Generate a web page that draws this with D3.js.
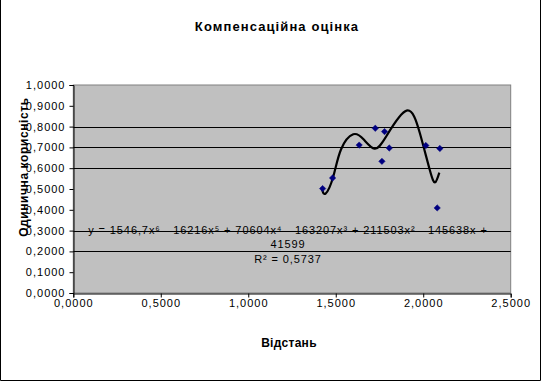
<!DOCTYPE html>
<html><head><meta charset="utf-8">
<script src="https://cdn.jsdelivr.net/npm/d3@7/dist/d3.min.js"></script>
<style>body{margin:0;background:#fff}svg{display:block}text{font-family:"Liberation Sans",Arial,sans-serif}</style>
</head><body><svg id="c" width="542" height="383"></svg>
<script>
const title = "Компенсаційна оцінка";
const xTitle = "Відстань";
const yTitle = "Одинична корисність";
const xTicks = [0, 0.5, 1.0, 1.5, 2.0, 2.5];
const yTicks = [0, 0.1, 0.2, 0.3, 0.4, 0.5, 0.6, 0.7, 0.8, 0.9, 1.0];
const gridValues = [0.2, 0.3, 0.6, 0.7, 0.8];
const pointsX = [1.425, 1.482, 1.634, 1.726, 1.779, 1.806, 1.764, 2.015, 2.095, 2.080];
const pointsY = [0.502, 0.553, 0.711, 0.792, 0.776, 0.697, 0.633, 0.709, 0.695, 0.409];
const trendX = [1.419, 1.442, 1.486, 1.530, 1.600, 1.660, 1.722, 1.790, 1.905, 1.981, 2.038, 2.068, 2.092];
const trendY = [0.506, 0.478, 0.560, 0.690, 0.763, 0.738, 0.694, 0.755, 0.877, 0.768, 0.590, 0.532, 0.579];
const eqLines = ["y = 1546,7x⁶ - 16216x⁵ + 70604x⁴ - 163207x³ + 211503x² - 145638x +", "41599", "R² = 0,5737"];

const svg = d3.select("#c");
const x = d3.scaleLinear().domain([0, 2.5]).range([73.3, 510.7]);
const y = d3.scaleLinear().domain([0, 1]).range([293, 85]);
const fmt = v => d3.format(".4f")(v).replace(".", ",");

svg.append("path").attr("d", "M0.5,0 V380.5 H540.5 V0").attr("fill", "none").attr("stroke", "#000");

svg.append("text").attr("x", 277).attr("y", 31).attr("text-anchor", "middle")
  .attr("font-size", 13).attr("font-weight", "bold").attr("letter-spacing", 1.1).text(title);

svg.append("rect").attr("x", x(0)).attr("y", y(1)).attr("width", x(2.5) - x(0)).attr("height", y(0) - y(1))
  .attr("fill", "#c0c0c0").attr("stroke", "#808080").attr("stroke-width", 1);

svg.append("g").selectAll("line").data(gridValues).join("line")
  .attr("x1", x(0)).attr("x2", x(2.5)).attr("y1", d => Math.round(y(d)) + 0.5).attr("y2", d => Math.round(y(d)) + 0.5)
  .attr("stroke", "#000").attr("stroke-width", 1);

const yAxis = d3.axisLeft(y).tickValues(yTicks).tickFormat(fmt).tickSize(4).tickPadding(5);
const gy = svg.append("g").attr("transform", `translate(${Math.round(x(0)) + 0.5},0)`).call(yAxis);
const xAxis = d3.axisBottom(x).tickValues(xTicks).tickFormat(fmt).tickSize(4).tickPadding(2);
const gx = svg.append("g").attr("transform", `translate(0,${Math.round(y(0)) + 0.5})`).call(xAxis);
[gx, gy].forEach(g => {
  g.selectAll("path.domain").attr("stroke", "#000");
  g.selectAll(".tick line").attr("stroke", "#000");
  g.selectAll("text").attr("font-size", 11).attr("fill", "#000").attr("letter-spacing", 1)
    .attr("font-family", '"Liberation Sans",Arial,sans-serif');
});
gy.selectAll("text").attr("dx", 1);

const trend = trendX.map((v, i) => [v, trendY[i]]);
svg.append("path").datum(trend)
  .attr("d", d3.line().x(d => x(d[0])).y(d => y(d[1])).curve(d3.curveNatural))
  .attr("fill", "none").attr("stroke", "#000").attr("stroke-width", 2.2);

const pts = pointsX.map((v, i) => [v, pointsY[i]]);
svg.append("g").selectAll("path").data(pts).join("path")
  .attr("transform", d => `translate(${x(d[0])},${y(d[1])})`)
  .attr("d", d3.symbol(d3.symbolDiamond2 || d3.symbolDiamond, 26))
  .attr("fill", "#000080").attr("stroke", "#000080").attr("stroke-width", 0.5);

const eqY = [234, 248, 263];
svg.append("g").selectAll("text").data(eqLines).join("text")
  .attr("x", 288).attr("y", (d, i) => eqY[i]).attr("text-anchor", "middle")
  .attr("font-size", 11).attr("letter-spacing", 0.9).attr("fill", "#000").text(d => d);

svg.append("text").attr("x", 289).attr("y", 347).attr("text-anchor", "middle")
  .attr("font-size", 12).attr("font-weight", "bold").attr("letter-spacing", 0.3).text(xTitle);
svg.append("text").attr("transform", "translate(28,167) rotate(-90)").attr("text-anchor", "middle")
  .attr("font-size", 12).attr("font-weight", "bold").attr("letter-spacing", 0.6).text(yTitle);
</script></body></html>
